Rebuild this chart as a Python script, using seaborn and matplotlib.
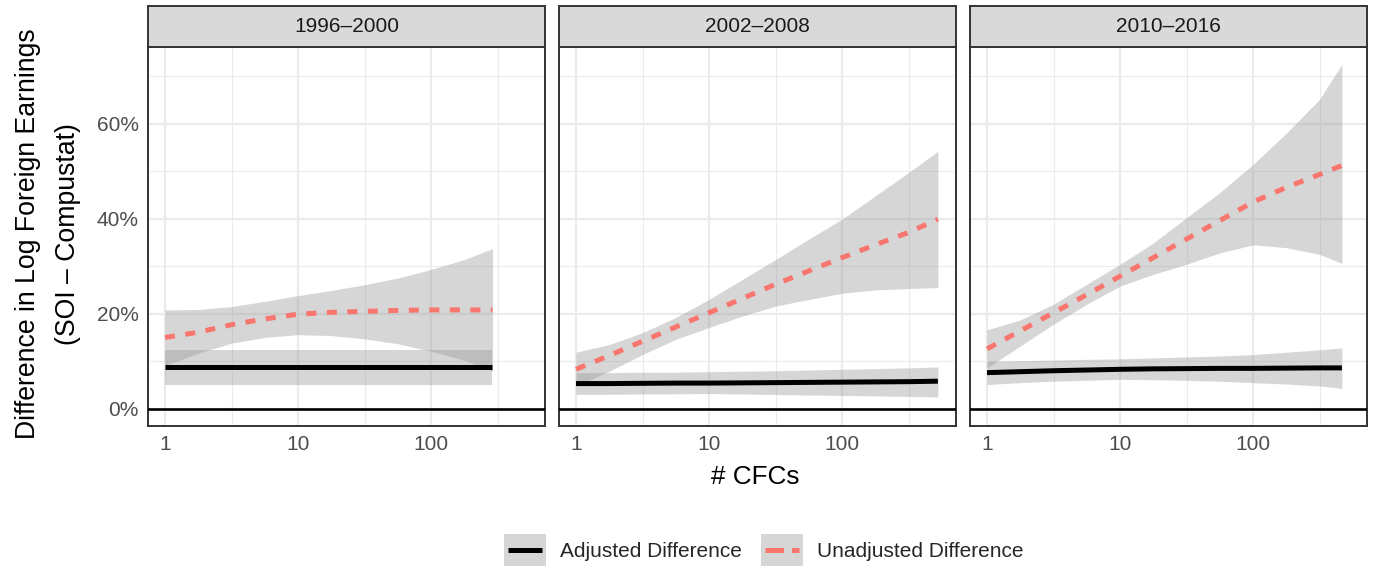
import numpy as np
import pandas as pd
import matplotlib
matplotlib.use("Agg")
import matplotlib.pyplot as plt
import seaborn as sns
from matplotlib.ticker import FixedLocator, NullFormatter, PercentFormatter
from matplotlib.legend_handler import HandlerBase
from matplotlib.patches import Rectangle
from matplotlib.lines import Line2D

# ---------------- data (percent) ----------------
panels = ["1996–2000", "2002–2008", "2010–2016"]

x_9600 = [1, 1.78, 3.16, 5.62, 10, 17.8, 31.6, 56.2, 100, 178, 290]
unadj_9600 = [15.0, 16.1, 17.7, 18.9, 19.9, 20.3, 20.5, 20.7, 20.8, 20.8, 20.8]
unadj_hi_9600 = [20.8, 20.9, 21.5, 22.6, 23.8, 24.9, 26.1, 27.5, 29.3, 31.4, 33.7]
unadj_lo_9600 = [9.1, 11.7, 13.8, 15.0, 15.6, 15.4, 14.7, 13.7, 12.1, 10.2, 7.9]
adj_9600 = [8.8, 8.8, 8.8, 8.8, 8.8, 8.8, 8.8, 8.8, 8.8, 8.8, 8.8]
adj_hi_9600 = [12.4, 12.4, 12.4, 12.4, 12.4, 12.4, 12.4, 12.4, 12.4, 12.4, 12.4]
adj_lo_9600 = [5.1, 5.1, 5.1, 5.1, 5.1, 5.1, 5.1, 5.1, 5.1, 5.1, 5.1]

x_0208 = [1, 1.78, 3.16, 5.62, 10, 17.8, 31.6, 56.2, 100, 178, 316, 526]
unadj_0208 = [8.3, 11.2, 14.2, 17.2, 20.2, 23.2, 26.2, 29.0, 31.8, 34.5, 37.1, 39.9]
unadj_hi_0208 = [11.9, 13.5, 16.0, 19.2, 23.0, 27.2, 31.4, 35.7, 39.9, 44.8, 49.7, 54.2]
unadj_lo_0208 = [4.8, 7.9, 11.4, 14.6, 17.1, 19.5, 21.6, 23.0, 24.3, 25.0, 25.3, 25.5]
adj_0208 = [5.3, 5.3, 5.35, 5.4, 5.4, 5.45, 5.5, 5.55, 5.6, 5.65, 5.7, 5.8]
adj_hi_0208 = [7.6, 7.6, 7.7, 7.7, 7.8, 7.9, 8.0, 8.15, 8.3, 8.45, 8.6, 8.8]
adj_lo_0208 = [3.0, 3.05, 3.1, 3.15, 3.2, 3.1, 3.0, 2.9, 2.8, 2.7, 2.6, 2.5]

x_1016 = [1, 1.78, 3.16, 5.62, 10, 17.8, 31.6, 56.2, 100, 178, 316, 466]
unadj_1016 = [12.6, 16.4, 20.2, 24.0, 27.9, 31.8, 35.7, 39.6, 43.5, 46.6, 49.3, 51.2]
unadj_hi_1016 = [16.6, 18.7, 22.0, 26.2, 30.4, 34.9, 40.2, 45.5, 51.4, 58.0, 65.1, 72.5]
unadj_lo_1016 = [8.6, 13.2, 17.8, 22.0, 25.8, 28.3, 30.4, 32.8, 34.5, 33.9, 32.5, 30.6]
adj_1016 = [7.6, 7.8, 8.0, 8.15, 8.3, 8.4, 8.45, 8.5, 8.5, 8.55, 8.6, 8.6]
adj_hi_1016 = [10.0, 10.1, 10.25, 10.4, 10.5, 10.7, 10.9, 11.1, 11.4, 11.9, 12.4, 12.8]
adj_lo_1016 = [5.1, 5.5, 5.8, 6.0, 6.2, 6.1, 6.0, 5.8, 5.5, 5.2, 4.8, 4.3]

series_names = ["Adjusted Difference", "Unadjusted Difference"]
x_ticks = [1, 10, 100]
x_tick_labels = ["1", "10", "100"]
y_ticks = [0, 20, 40, 60]

rows = []
for p, xs, a, ah, al, u, uh, ul in [
    (panels[0], x_9600, adj_9600, adj_hi_9600, adj_lo_9600, unadj_9600, unadj_hi_9600, unadj_lo_9600),
    (panels[1], x_0208, adj_0208, adj_hi_0208, adj_lo_0208, unadj_0208, unadj_hi_0208, unadj_lo_0208),
    (panels[2], x_1016, adj_1016, adj_hi_1016, adj_lo_1016, unadj_1016, unadj_hi_1016, unadj_lo_1016),
]:
    for i, xv in enumerate(xs):
        rows.append(dict(period=p, series=series_names[0], cfcs=xv, value=a[i], hi=ah[i], lo=al[i]))
        rows.append(dict(period=p, series=series_names[1], cfcs=xv, value=u[i], hi=uh[i], lo=ul[i]))
df = pd.DataFrame(rows)

# ---------------- styling ----------------
sns.set_style("white")
plt.rcParams["font.family"] = ["Liberation Sans", "DejaVu Sans"]

colors = {series_names[0]: "black", series_names[1]: "#F8766D"}
styles = {series_names[0]: "-", series_names[1]: (0, (2, 2.1))}
LW = 3.6
W, H = 1377, 571

fig = plt.figure(figsize=(W / 100, H / 100), dpi=100)

panel_left = [148, 559, 970]
panel_w = 397
top_px, bot_px = 46.7, 426
strip_top = 6

xlim = (10 ** (-17 / 133), 10 ** ((397 - 17) / 133))
ylim = (-3.63, 76.2)

for k, p in enumerate(panels):
    ax = fig.add_axes([panel_left[k] / W, 1 - bot_px / H, panel_w / W, (bot_px - top_px) / H])
    ax.set_facecolor("white")
    sub = df[df.period == p]
    for s in series_names:
        d = sub[sub.series == s].sort_values("cfcs")
        ax.fill_between(d.cfcs, d.lo, d.hi, color="#999999", alpha=0.4, linewidth=0)
        sns.lineplot(data=d, x="cfcs", y="value", ax=ax, color=colors[s],
                     linewidth=LW, estimator=None, sort=True, legend=False)
        ln = ax.lines[-1]
        ln.set_linestyle(styles[s])
        ln.set_dash_capstyle("butt")
        ln.set_solid_capstyle("butt")
        ln.set_solid_joinstyle("round")
    ax.axhline(0, color="black", lw=1.9, zorder=5)
    ax.set_xscale("log")
    ax.set_xlim(*xlim)
    ax.set_ylim(*ylim)
    ax.xaxis.set_major_locator(FixedLocator(x_ticks))
    ax.set_xticklabels(x_tick_labels)
    ax.xaxis.set_minor_locator(FixedLocator([10 ** 0.5, 10 ** 1.5, 10 ** 2.5]))
    ax.xaxis.set_minor_formatter(NullFormatter())
    ax.yaxis.set_major_locator(FixedLocator(y_ticks))
    ax.yaxis.set_minor_locator(FixedLocator([10, 30, 50, 70]))
    ax.yaxis.set_major_formatter(PercentFormatter(xmax=100, decimals=0))
    ax.grid(which="major", color="#EBEBEB", lw=1.6)
    ax.grid(which="minor", color="#EBEBEB", lw=0.8)
    ax.set_axisbelow(True)
    ax.tick_params(which="minor", length=0)
    ax.tick_params(which="major", length=3.6, width=1.4, color="#333333",
                   labelsize=15, labelcolor="#4D4D4D", pad=3)
    if k > 0:
        ax.tick_params(axis="y", which="both", left=False, labelleft=False)
    for sp in ax.spines.values():
        sp.set_color("#333333")
        sp.set_linewidth(1.4)
        sp.set_visible(True)
    ax.set_xlabel("")
    ax.set_ylabel("")

    sax = fig.add_axes([panel_left[k] / W, 1 - top_px / H, panel_w / W, (top_px - strip_top) / H])
    sax.set_facecolor("#D9D9D9")
    sax.set_xticks([])
    sax.set_yticks([])
    for sp in sax.spines.values():
        sp.set_color("#333333")
        sp.set_linewidth(1.4)
        sp.set_visible(True)
    sax.text(0.5, 0.5, p, ha="center", va="center", fontsize=15, color="#1A1A1A",
             transform=sax.transAxes)

fig.text(48 / W, 1 - 234 / H, "Difference in Log Foreign Earnings\n(SOI – Compustat)",
         rotation=90, ha="center", va="center", multialignment="center",
         fontsize=19.2, color="black", linespacing=1.72)
fig.text(755.5 / W, 1 - 477 / H, "# CFCs", ha="center", va="center", fontsize=18.8, color="black")


class KeyHandler(HandlerBase):
    def create_artists(self, legend, orig_handle, xdescent, ydescent, width, height, fontsize, trans):
        rect = Rectangle((-xdescent, -ydescent), width, height, facecolor="#D6D6D6",
                         edgecolor="none", transform=trans)
        y = -ydescent + height / 2
        line = Line2D([-xdescent + width * 0.1, -xdescent + width * 0.9], [y, y],
                      color=orig_handle.get_color(), lw=orig_handle.get_linewidth(),
                      linestyle=orig_handle.get_linestyle(), transform=trans)
        line.set_dash_capstyle("butt")
        line.set_solid_capstyle("butt")
        return [rect, line]


handles = [Line2D([], [], color=colors[s], lw=LW, linestyle=styles[s]) for s in series_names]
fig.legend(handles, series_names, loc="center", bbox_to_anchor=(764 / W, 1 - 550 / H),
           ncol=2, frameon=False, fontsize=15, handlelength=2.0, handleheight=2.0,
           handletextpad=0.7, columnspacing=0.9,
           handler_map={h: KeyHandler() for h in handles})

fig.savefig("out.png", dpi=100)
